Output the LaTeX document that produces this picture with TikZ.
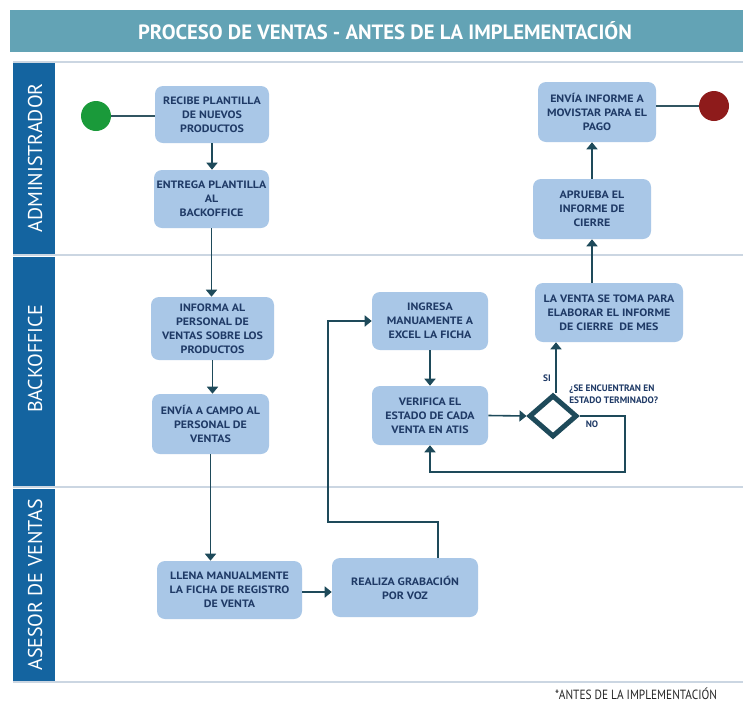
\documentclass[tikz,border=0pt]{standalone}
\usepackage{fontspec}
\setmainfont{PT Sans}
\newfontfamily\boxfont{PT Sans}[FakeStretch=1.12]
\usetikzlibrary{arrows.meta,shapes.geometric,calc}
\definecolor{boxfill}{HTML}{A9C7E7}
\definecolor{boxtext}{HTML}{1F3A66}
\definecolor{arrowc}{HTML}{1E4A5A}
\definecolor{lanebar}{HTML}{1464A0}
\definecolor{titlebg}{HTML}{63A3B5}
\definecolor{laneline}{HTML}{CBD6E2}
\definecolor{startg}{HTML}{1A9A3A}
\definecolor{endr}{HTML}{8E1B1B}
\def\px{0.75pt}
\tikzset{
  task/.style={draw=none, fill=boxfill, rounded corners=8*\px, align=center,
    text=boxtext, font=\boxfont\fontsize{8}{10.5}\selectfont\bfseries, inner sep=0pt},
  flow/.style={draw=arrowc, line width=1.6*\px, -{Triangle[width=11*\px,length=7*\px]}},
  plain/.style={draw=arrowc!80!gray, line width=1.6*\px},
  lanetxt/.style={text=white, rotate=90, font=\fontsize{15}{15}\selectfont},
  lanesep/.style={draw=laneline, line width=2*\px},
  bar/.style={fill=lanebar, draw=none},
  small/.style={text=boxtext, font=\fontsize{7}{9}\selectfont\bfseries, inner sep=0pt}
}
\begin{document}
\begin{tikzpicture}[x=0.75pt,y=-0.75pt]
\useasboundingbox (0,0) rectangle (743,704);
\fill[white] (0,0) rectangle (743,704);
% title
\fill[titlebg] (10,10) rectangle (743,52);
\node[text=white, font=\fontsize{15.5}{15.5}\selectfont\bfseries] (title) at (385,31) {PROCESO DE VENTAS - ANTES DE LA IMPLEMENTACIÓN};
% lanes
\draw[lanesep] (13,62) -- (743,62);
\draw[lanesep] (13,255) -- (743,255);
\draw[lanesep] (13,487) -- (743,487);
\draw[lanesep] (13,682) -- (743,682);
\fill[bar] (13,63) rectangle (55,253.5);
\fill[bar] (13,256.5) rectangle (55,486);
\fill[bar] (13,488.5) rectangle (55,681);
\node[lanetxt] (ladm) at (35,158) {ADMINISTRADOR};
\node[lanetxt] (lbo) at (35,359) {BACKOFFICE};
\node[lanetxt] (lase) at (35,585) {ASESOR DE VENTAS};
% events
\node[circle, fill=startg, minimum size=30*\px, inner sep=0pt] (start) at (96,116) {};
\node[circle, fill=endr, minimum size=30*\px, inner sep=0pt] (end) at (714,106) {};
% tasks
\node[task, minimum width=114*\px, minimum height=57*\px] (R1) at (212,114.5) {RECIBE PLANTILLA\\DE NUEVOS\\PRODUCTOS};
\node[task, minimum width=115*\px, minimum height=58*\px] (R2) at (211.5,199) {ENTREGA PLANTILLA\\AL\\BACKOFFICE};
\node[task, minimum width=123*\px, minimum height=63*\px] (B1) at (212.5,328.5) {INFORMA AL\\PERSONAL DE\\VENTAS SOBRE LOS\\PRODUCTOS};
\node[task, minimum width=117*\px, minimum height=60*\px] (B2) at (210.5,424) {ENVÍA A CAMPO AL\\PERSONAL DE\\VENTAS};
\node[task, minimum width=145*\px, minimum height=58*\px] (A1) at (229.5,590) {LLENA MANUALMENTE\\LA FICHA DE REGISTRO\\DE VENTA};
\node[task, minimum width=146*\px, minimum height=59*\px] (A2) at (405,587.5) {REALIZA GRABACIÓN\\POR VOZ};
\node[task, minimum width=116*\px, minimum height=58*\px] (I1) at (430,321) {INGRESA\\MANUAMENTE A\\EXCEL LA FICHA};
\node[task, minimum width=116*\px, minimum height=59*\px] (V1) at (430,415.5) {VERIFICA EL\\ESTADO DE CADA\\VENTA EN ATIS};
\node[diamond, draw=arrowc, fill=white, line width=5*\px, minimum width=48*\px, minimum height=42*\px, inner sep=0pt] (D) at (553,416) {};
\node[task, minimum width=148*\px, minimum height=59*\px] (L1) at (609,312.5) {LA VENTA SE TOMA PARA\\ELABORAR EL INFORME\\DE CIERRE \ DE MES};
\node[task, minimum width=118*\px, minimum height=60*\px] (Ap1) at (592,209) {APRUEBA EL\\INFORME DE\\CIERRE};
\node[task, minimum width=118*\px, minimum height=60*\px] (E1) at (597,112) {ENVÍA INFORME A\\MOVISTAR PARA EL\\PAGO};
% labels
\node[small, align=left, anchor=west] (q) at (569,394) {¿SE ENCUENTRAN EN\\ESTADO TERMINADO?};
\node[small] (si) at (547,378) {SI};
\node[small] (no) at (592,424) {NO};
\node[font=\fontsize{10}{10}\selectfont, text=black!85] (foot) at (636,694) {\scalebox{0.85}[1]{*ANTES DE LA IMPLEMENTACIÓN}};
% coordinates
\coordinate (c1) at (438,522);
\coordinate (c2) at (328,522);
\coordinate (c3) at (625,472);
\coordinate (c4) at (592,283);
% connectors
\draw[plain] (start) -- (start -| R1.west);
\draw[flow] (R1.south) -- (R1.south |- R2.north);
\draw[flow] (R2.south) -- (R2.south |- B1.north);
\draw[flow] (B1.south) -- (B1.south |- B2.north);
\draw[flow] (B2.south) -- (B2.south |- A1.north);
\draw[flow] (A1.east |- 0,592) -- (A2.west |- 0,592);
\draw[flow] (A2.north -| c1) -- (c1) -- (c2) -- (c2 |- I1.west) -- (I1.west);
\draw[flow] (I1.south) -- (I1.south |- V1.north);
\draw[flow] (V1.east) -- (D.west);
\draw[flow] (D.north -| 556,0) -- (556,0 |- L1.south);
\draw[flow] (D.east) -- (c3 |- D.east) -- (c3) -- (c3 -| V1.south) -- (V1.south);
\draw[flow] (c4) -- (c4 |- Ap1.south);
\draw[flow] (Ap1.north -| 592,0) -- (592,0 |- E1.south);
\draw[plain] (E1.east |- end) -- (end);
\end{tikzpicture}
\end{document}
